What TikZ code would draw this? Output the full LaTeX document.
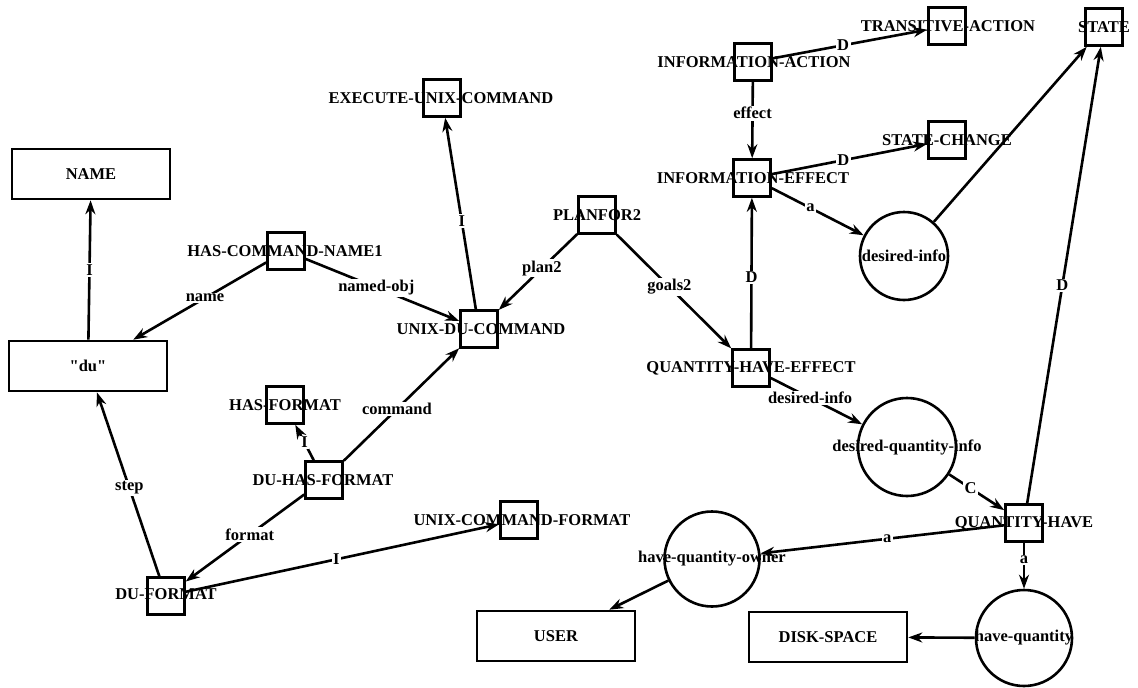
\documentclass[tikz,border=0pt]{standalone}
\usepackage{fontspec}
\setmainfont{Liberation Serif}
\newfontfamily\rawserif{Liberation Serif}
\usetikzlibrary{arrows.meta}
\newcommand\dgfont{\fontsize{16.5}{18}\selectfont\bfseries}
\begin{document}
\begin{tikzpicture}[x=1pt,y=-1pt,
  line width=2.6pt,
  sq/.style={draw, minimum size=37pt, inner sep=0pt},
  rbox/.style={draw, minimum width=158pt, minimum height=50pt, inner sep=0pt, font=\dgfont},
  circ/.style={draw, circle, minimum size=#1, inner sep=0pt},
  txt/.style={inner sep=0pt, font=\dgfont},
  el/.style={fill=white, inner sep=1.5pt, font=\dgfont},
  arr/.style={-{Stealth[length=14pt,width=10pt]}}
]
\useasboundingbox (0,0) rectangle (1138,688);

% rectangles
\node[rbox] (name) at (91,174) {NAME};
\node[rbox] (du) at (88,366) {{\rawserif\bfseries "du"}};
\node[rbox] (user) at (556,636) {USER};
\node[rbox] (disk) at (828,637) {DISK-SPACE};

% small squares with overlaid text
\node[sq] (hcn) at (286,251) {};
\node[txt] (hcnt) at (285,251) {HAS-COMMAND-NAME1};
\node[sq] (exe) at (442,98) {};
\node[txt] (exet) at (441,98) {EXECUTE-UNIX-COMMAND};
\node[sq] (udc) at (479,329) {};
\node[txt] (udct) at (481,329) {UNIX-DU-COMMAND};
\node[sq] (pf) at (597,215) {};
\node[txt] (pft) at (597,215) {PLANFOR2};
\node[sq] (ia) at (753,62) {};
\node[txt] (iat) at (754,62) {INFORMATION-ACTION};
\node[sq] (ie) at (752,178) {};
\node[txt] (iet) at (753,178) {INFORMATION-EFFECT};
\node[sq] (ta) at (947,26) {};
\node[txt] (tat) at (948,26) {TRANSITIVE-ACTION};
\node[sq] (st) at (1104,27) {};
\node[txt] (stt) at (1104,27) {STATE};
\node[sq] (sc) at (947,140) {};
\node[txt] (sct) at (947,140) {STATE-CHANGE};
\node[sq] (qhe) at (751,368) {};
\node[txt] (qhet) at (751,368) {QUANTITY-HAVE-EFFECT};
\node[sq] (qh) at (1024,523) {};
\node[txt] (qht) at (1024,523) {QUANTITY-HAVE};
\node[sq] (ucf) at (519,520) {};
\node[txt] (ucft) at (522,520) {UNIX-COMMAND-FORMAT};
\node[sq] (duf) at (166,596) {};
\node[txt] (duft) at (166,594) {DU-FORMAT};
\node[sq] (dhf) at (324,480) {};
\node[txt] (dhft) at (323,480) {DU-HAS-FORMAT};
\node[sq] (hf) at (285,405) {};
\node[txt] (hft) at (285,405) {HAS-FORMAT};

% circles
\node[circ=88pt] (di) at (904,256) {};
\node[txt] (dit) at (904,256) {desired-info};
\node[circ=98pt] (dqi) at (907,447) {};
\node[txt] (dqit) at (907,447) {desired-quantity-info};
\node[circ=96pt] (hq) at (1024,638) {};
\node[txt] (hqt) at (1024,638) {have-quantity};
\node[circ=95pt] (hqo) at (712,559) {};
\node[txt] (hqot) at (712,559) {have-quantity-owner};

% connectors
\draw[arr] (du) -- node[el] {I} (name);
\draw[arr] (hcn) -- node[el, pos=0.46] {name} (du);
\draw[arr] (hcn) -- node[el, pos=0.46] {named-obj} (udc);
\draw[arr] (udc) -- node[el, pos=0.46] {I} (exe);
\draw[arr] (pf) -- node[el, pos=0.45] {plan2} (udc);
\draw[arr] (pf) -- node[el, pos=0.46] {goals2} (qhe);
\draw[arr] (qhe) -- node[el, pos=0.47] {D} (ie);
\draw[arr] (ia) -- node[el, pos=0.41] {effect} (ie);
\draw[arr] (ia) -- node[el, pos=0.455] {D} (ta);
\draw[arr] (ie) -- node[el, pos=0.46] {D} (sc);
\draw[arr] (ie) -- node[el, pos=0.42] {a} (di);
\draw[arr] (di) -- (st);
\draw[arr] (qh) -- node[el, pos=0.477] {D} (st);
\draw[arr] (qhe) -- node[el, pos=0.43] {desired-info} (dqi);
\draw[arr] (dqi) -- node[el, pos=0.39] {C} (qh);
\draw[arr] (qh) -- node[el, pos=0.48] {a} (hqo);
\draw[arr] (qh) -- node[el, pos=0.375] {a} (hq);
\draw[arr] (hq) -- (disk);
\draw[arr] (hqo) -- (user);
\draw[arr] (dhf) -- node[el, pos=0.46] {command} (udc);
\draw[arr] (dhf) -- node[el] {I} (hf);
\draw[arr] (dhf) -- node[el, pos=0.46] {format} (duf);
\draw[arr] (duf) -- node[el, pos=0.48] {step} (du);
\draw[arr] (duf) -- node[el, pos=0.48] {I} (ucf);
\end{tikzpicture}
\end{document}
